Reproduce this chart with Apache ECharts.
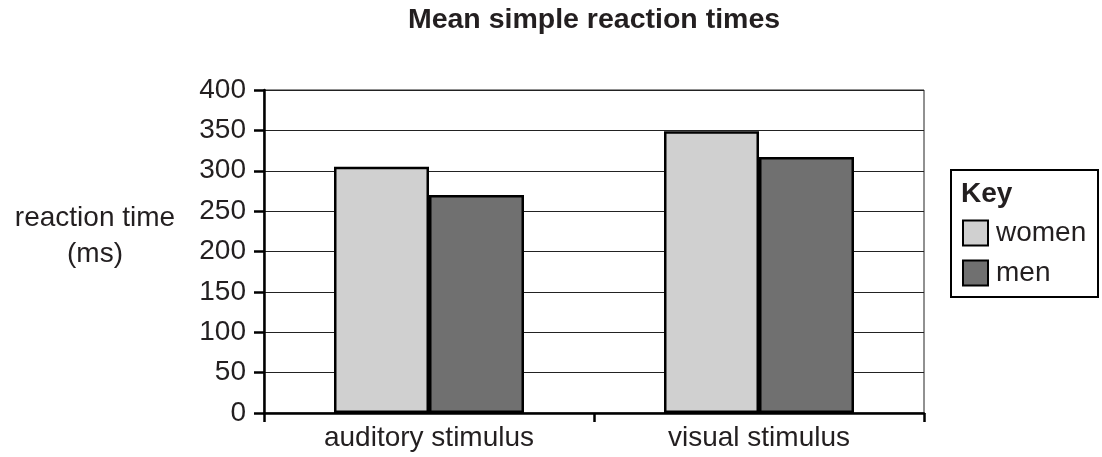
<!DOCTYPE html>
<html><head><meta charset="utf-8">
<script src="https://cdn.jsdelivr.net/npm/echarts@6/dist/echarts.min.js"></script>
<style>html,body{margin:0;padding:0;background:#fff}#c{width:1102px;height:457px}</style>
</head><body><div id="c"></div>
<script>
const categories = ['auditory stimulus', 'visual stimulus'];
const women = [305, 349];
const men = [270, 317];
const seriesNames = ['women', 'men'];
const titleText = 'Mean simple reaction times';
const yAxisTitle = 'reaction time\n(ms)';
const keyTitle = 'Key';

const FONT = '"Liberation Sans", Arial, Helvetica, sans-serif';
const FS = 28;
const chart = echarts.init(document.getElementById('c'));
chart.setOption({
  animation: false,
  backgroundColor: '#fff',
  grid: { left: 264, right: 178, top: 90, bottom: 44, show: true, borderColor: '#222', borderWidth: 1, backgroundColor: 'transparent' },
  graphic: [
    { type: 'text', x: 594, y: 20, style: { text: titleText, font: 'bold 28.5px ' + FONT, fill: '#231f20', align: 'center', verticalAlign: 'middle' } },
    { type: 'text', x: 95, y: 236, style: { text: yAxisTitle, font: FS + 'px ' + FONT, fill: '#231f20', align: 'center', verticalAlign: 'middle', lineHeight: 36 } },
    { type: 'rect', shape: { x: 951, y: 170, width: 147, height: 127 }, style: { fill: '#fff', stroke: '#000', lineWidth: 2 }, z: 0 },
    { type: 'text', x: 961, y: 194, style: { text: keyTitle, font: 'bold 28px ' + FONT, fill: '#231f20', align: 'left', verticalAlign: 'middle' }, z: 10 }
  ],
  legend: {
    orient: 'vertical', left: 962, top: 219, itemWidth: 25, itemHeight: 25, itemGap: 12,
    icon: 'rect', padding: 0, itemStyle: { borderColor: '#000', borderWidth: 2 },
    textStyle: { fontFamily: FONT, fontSize: FS, color: '#231f20', lineHeight: 25, padding: [0, 0, 0, 3] },
    data: seriesNames, z: 10
  },
  xAxis: {
    type: 'category', data: categories,
    axisLine: { lineStyle: { color: '#000', width: 2.5 } },
    axisTick: { show: true, length: 9, lineStyle: { color: '#000', width: 2.5 } },
    axisLabel: { fontFamily: FONT, fontSize: FS, color: '#231f20', margin: 11 },
    splitLine: { show: false }
  },
  yAxis: {
    type: 'value', min: 0, max: 400, interval: 50,
    axisLine: { show: true, lineStyle: { color: '#000', width: 2.5 } },
    axisTick: { show: true, length: 10, lineStyle: { color: '#000', width: 2.5 } },
    axisLabel: { fontFamily: FONT, fontSize: FS, color: '#231f20', margin: 18 },
    splitLine: { show: true, lineStyle: { color: '#222', width: 1 } }
  },
  series: [
    { name: seriesNames[0], type: 'bar', data: women, barWidth: 95, barGap: '0%',
      itemStyle: { color: '#d0d0d0', borderColor: '#000', borderWidth: 2.5 } },
    { name: seriesNames[1], type: 'bar', data: men, barWidth: 95, barGap: '0%',
      itemStyle: { color: '#707070', borderColor: '#000', borderWidth: 2.5 } }
  ]
});
</script></body></html>
